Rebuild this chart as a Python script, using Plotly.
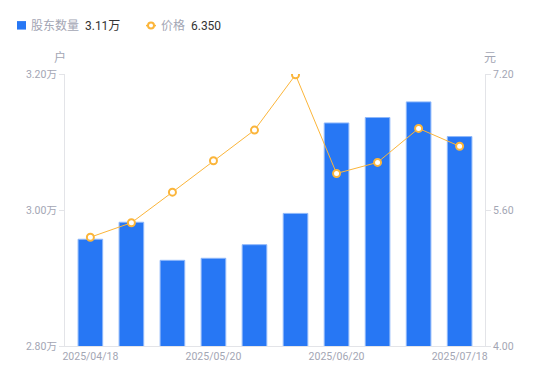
import plotly.graph_objects as go

dates = ["2025/04/18", "2025/04/30", "2025/05/09", "2025/05/20", "2025/05/30",
         "2025/06/10", "2025/06/20", "2025/06/30", "2025/07/10", "2025/07/18"]
holders = [29570, 29820, 29260, 29290, 29490, 29950, 31280, 31360, 31590, 31080]
prices = [5.28, 5.45, 5.81, 6.18, 6.54, 7.19, 6.03, 6.16, 6.56, 6.35]
shown_dates = ["2025/04/18", "2025/05/20", "2025/06/20", "2025/07/18"]
left_ticks = [28000, 30000, 32000]
right_ticks = [4.0, 5.6, 7.2]

BLUE = "#2777f4"
ORANGE = "#fbb53a"
GRAY = "#a3a6b4"
AXIS = "#e3e4e8"
FONT = "Roboto, 'Noto Sans CJK SC', sans-serif"

OFF = 8  # page body margin
W, H = 550 - OFF, 381 - OFF
# plot area in page pixels
L, R, T, B = 65, 485, 73.5, 346
PW, PH = R - L, B - T


def px(x):
    return (x - L) / PW


def py(y):
    return (B - y) / PH


fig = go.Figure()
fig.add_trace(go.Bar(x=dates, y=holders, marker=dict(color=BLUE, line=dict(color="#8fb8fa", width=1)),
                     name="股东数量", yaxis="y"))
fig.add_trace(go.Scatter(x=dates, y=prices, mode="lines+markers", yaxis="y2", name="价格",
                         line=dict(color=ORANGE, width=1),
                         marker=dict(size=7, color="white", line=dict(color=ORANGE, width=2))))

fig.update_layout(
    width=W, height=H,
    margin=dict(l=L - OFF, r=550 - R, t=T - OFF, b=381 - B, autoexpand=False),
    paper_bgcolor="white", plot_bgcolor="white",
    showlegend=False, bargap=0.4,
    font=dict(family=FONT, color=GRAY, size=10),
    xaxis=dict(type="category", tickvals=shown_dates, ticktext=shown_dates, automargin=False,
               showline=True, linecolor=AXIS, linewidth=1, ticks="", showgrid=False,
               tickfont=dict(size=10.5, color=GRAY)),
    yaxis=dict(range=[28000, 32000], tickvals=left_ticks, automargin=False,
               ticktext=[f"{v/10000:.2f}万" for v in left_ticks],
               showline=True, linecolor=AXIS, linewidth=1, ticks="outside", ticklen=5,
               tickcolor=AXIS, showgrid=False, zeroline=False,
               tickfont=dict(size=10.5, color=GRAY)),
    yaxis2=dict(range=[4.0, 7.2], tickvals=right_ticks, ticktext=[f"{v:.2f}" for v in right_ticks],
                overlaying="y", side="right", automargin=False,
                showline=True, linecolor=AXIS, linewidth=1, ticks="outside", ticklen=5,
                tickcolor=AXIS, showgrid=False, zeroline=False,
                tickfont=dict(size=10.5, color=GRAY)),
)

# axis unit titles
fig.add_annotation(xref="paper", yref="paper", x=px(60), y=py(57), text="户", showarrow=False,
                   font=dict(size=12, color=GRAY), xanchor="center", yanchor="middle")
fig.add_annotation(xref="paper", yref="paper", x=px(490), y=py(57), text="元", showarrow=False,
                   font=dict(size=12, color=GRAY), xanchor="center", yanchor="middle")

# custom legend
fig.add_shape(type="rect", xref="paper", yref="paper",
              x0=px(17), x1=px(26), y0=py(29), y1=py(20.5),
              fillcolor=BLUE, line=dict(width=0))
fig.add_annotation(xref="paper", yref="paper", x=px(29), y=py(25),
                   xanchor="left", yanchor="middle", showarrow=False,
                   text=f"股东数量  <span style='color:#333'>{holders[-1]/10000:.2f}万</span>",
                   font=dict(size=12, color=GRAY))
fig.add_shape(type="line", xref="paper", yref="paper",
              x0=px(146), x1=px(156), y0=py(25), y1=py(25),
              line=dict(color=ORANGE, width=1.5))
fig.add_shape(type="circle", xref="paper", yref="paper",
              x0=px(148), x1=px(154), y0=py(28), y1=py(22),
              fillcolor="white", line=dict(color=ORANGE, width=2))
fig.add_annotation(xref="paper", yref="paper", x=px(159), y=py(25),
                   xanchor="left", yanchor="middle", showarrow=False,
                   text=f"价格  <span style='color:#333'>{prices[-1]:.3f}</span>",
                   font=dict(size=12, color=GRAY))

fig.write_html("out.html")
